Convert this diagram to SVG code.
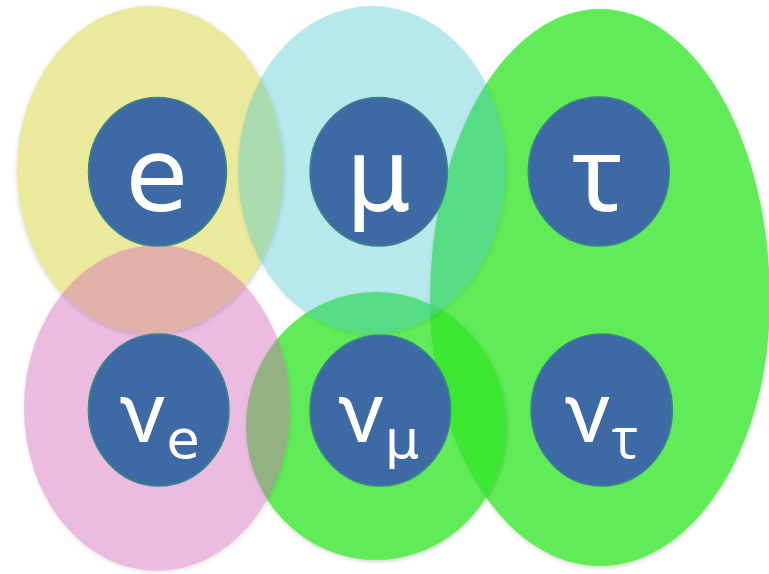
<svg xmlns="http://www.w3.org/2000/svg" width="769" height="574" viewBox="0 0 769 574">
  <defs>
    <filter id="sh" x="-10%" y="-10%" width="120%" height="120%">
      <feDropShadow dx="0.5" dy="1.5" stdDeviation="2" flood-color="#000" flood-opacity="0.25"/>
    </filter>
    <style>
      .circ { fill: #3D6AA5; stroke: #3A8787; stroke-width: 1.5; }
      .lbl { fill: #FFFFFF; font-family: "DejaVu Sans", Verdana, sans-serif; text-anchor: middle; }
      .gr { font-family: Inter, "DejaVu Sans", sans-serif; }
      .gt { font-family: "Noto Sans", "DejaVu Sans", sans-serif; }
      .go { font-family: "Open Sans", "DejaVu Sans", sans-serif; }
      .big { font-size: 102px; }
      .bigg { font-size: 105px; }
      .mid { font-size: 82px; }
      .sub { font-size: 54px; }
      .subg { font-size: 56px; }
      .grp { filter: url(#sh); }
    </style>
  </defs>
  <rect width="769" height="574" fill="#FFFFFF"/>

  <!-- family ellipses -->
  <g id="families">
    <ellipse id="fam-e" class="grp" cx="150" cy="170" rx="133" ry="164" fill="#EBEA9C"/>
    <path id="fam-tau" class="grp" d="M430,300 A170,291 0 0 1 770,300 A170,266 0 0 1 430,300 Z" fill="#33E626" opacity="0.77"/>
    <ellipse id="fam-numu" class="grp" cx="376" cy="426" rx="130" ry="134" fill="#33E626" opacity="0.77"/>
    <ellipse id="fam-nue" class="grp" cx="157" cy="408" rx="133" ry="163" fill="#D36CBA" opacity="0.45"/>
    <ellipse id="fam-mu" class="grp" cx="372" cy="170" rx="134" ry="164" fill="#46C6CC" opacity="0.39"/>
  </g>

  <g id="connectors"></g>

  <g id="node-e">
    <ellipse class="circ" cx="157.5" cy="171.7" rx="69" ry="74.3"/>
    <text class="lbl big" x="157" y="210.5">e</text>
  </g>
  <g id="node-mu">
    <ellipse class="circ" cx="378.7" cy="171.7" rx="68.7" ry="74.3"/>
    <text class="lbl big" x="378.5" y="210.5">μ</text>
  </g>
  <g id="node-tau">
    <ellipse class="circ" cx="598.8" cy="171.6" rx="70.5" ry="74.5"/>
    <text class="lbl gt bigg" x="597.5" y="210.7">τ</text>
  </g>
  <g id="node-nue">
    <ellipse class="circ" cx="158.7" cy="410" rx="70.3" ry="76"/>
    <text class="lbl gr mid" x="142.5" y="441.7">ν</text>
    <text class="lbl sub" x="183" y="457.5">e</text>
  </g>
  <g id="node-numu">
    <ellipse class="circ" cx="380.3" cy="410.5" rx="70.3" ry="75.5"/>
    <text class="lbl gr mid" x="361" y="442">ν</text>
    <text class="lbl sub" x="402.2" y="458">μ</text>
  </g>
  <g id="node-nutau">
    <ellipse class="circ" cx="601.7" cy="410" rx="70.7" ry="76"/>
    <text class="lbl gr mid" x="587.5" y="442">ν</text>
    <text class="lbl go subg" x="625" y="458">τ</text>
  </g>
</svg>
